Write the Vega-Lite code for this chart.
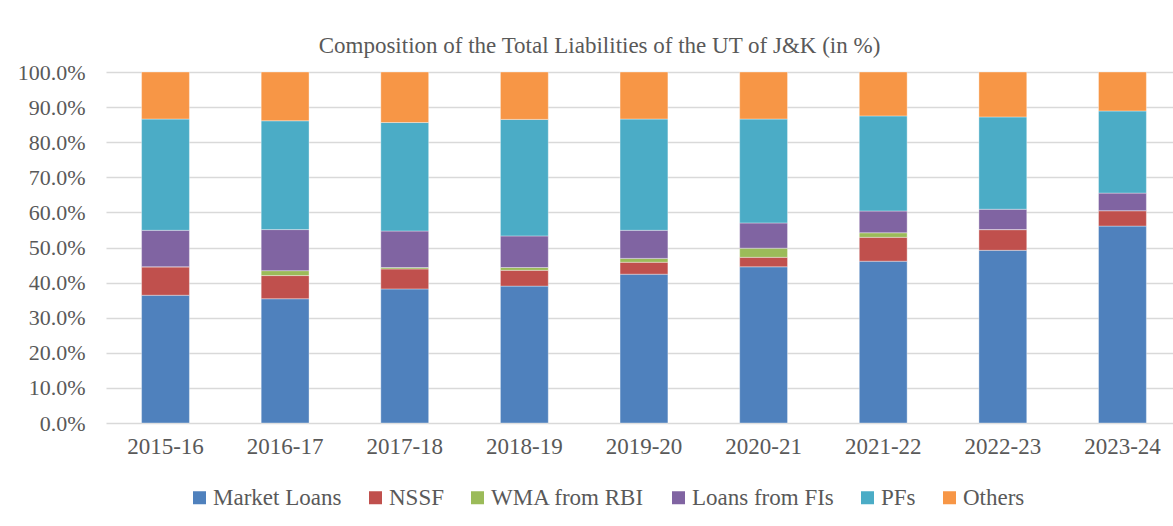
{
  "$schema": "https://vega.github.io/schema/vega-lite/v6.json",
  "autosize": "none",
  "width": 1067,
  "height": 351,
  "padding": {"left": 106, "top": 72, "right": 0, "bottom": 103},
  "background": "white",
  "title": {
    "text": "Composition of the Total Liabilities of the UT of J&K (in %)",
    "font": "Times New Roman, Liberation Serif, serif",
    "fontSize": 23,
    "fontWeight": "normal",
    "color": "#595959",
    "anchor": "middle",
    "frame": "group",
    "dx": -40,
    "offset": 3
  },
  "data": {
    "values": [
      {"year": "2015-16", "cat": "Market Loans", "ord": 1, "v": 36.4},
      {"year": "2015-16", "cat": "NSSF", "ord": 2, "v": 8.1},
      {"year": "2015-16", "cat": "WMA from RBI", "ord": 3, "v": 0},
      {"year": "2015-16", "cat": "Loans from FIs", "ord": 4, "v": 10.4},
      {"year": "2015-16", "cat": "PFs", "ord": 5, "v": 31.7},
      {"year": "2015-16", "cat": "Others", "ord": 6, "v": 13.4},
      {"year": "2016-17", "cat": "Market Loans", "ord": 1, "v": 35.4},
      {"year": "2016-17", "cat": "NSSF", "ord": 2, "v": 6.6},
      {"year": "2016-17", "cat": "WMA from RBI", "ord": 3, "v": 1.4},
      {"year": "2016-17", "cat": "Loans from FIs", "ord": 4, "v": 11.7},
      {"year": "2016-17", "cat": "PFs", "ord": 5, "v": 31.0},
      {"year": "2016-17", "cat": "Others", "ord": 6, "v": 13.9},
      {"year": "2017-18", "cat": "Market Loans", "ord": 1, "v": 38.2},
      {"year": "2017-18", "cat": "NSSF", "ord": 2, "v": 5.7},
      {"year": "2017-18", "cat": "WMA from RBI", "ord": 3, "v": 0.4},
      {"year": "2017-18", "cat": "Loans from FIs", "ord": 4, "v": 10.4},
      {"year": "2017-18", "cat": "PFs", "ord": 5, "v": 30.9},
      {"year": "2017-18", "cat": "Others", "ord": 6, "v": 14.4},
      {"year": "2018-19", "cat": "Market Loans", "ord": 1, "v": 39.0},
      {"year": "2018-19", "cat": "NSSF", "ord": 2, "v": 4.5},
      {"year": "2018-19", "cat": "WMA from RBI", "ord": 3, "v": 0.8},
      {"year": "2018-19", "cat": "Loans from FIs", "ord": 4, "v": 9.0},
      {"year": "2018-19", "cat": "PFs", "ord": 5, "v": 33.2},
      {"year": "2018-19", "cat": "Others", "ord": 6, "v": 13.5},
      {"year": "2019-20", "cat": "Market Loans", "ord": 1, "v": 42.4},
      {"year": "2019-20", "cat": "NSSF", "ord": 2, "v": 3.4},
      {"year": "2019-20", "cat": "WMA from RBI", "ord": 3, "v": 1.1},
      {"year": "2019-20", "cat": "Loans from FIs", "ord": 4, "v": 8.0},
      {"year": "2019-20", "cat": "PFs", "ord": 5, "v": 31.7},
      {"year": "2019-20", "cat": "Others", "ord": 6, "v": 13.4},
      {"year": "2020-21", "cat": "Market Loans", "ord": 1, "v": 44.5},
      {"year": "2020-21", "cat": "NSSF", "ord": 2, "v": 2.7},
      {"year": "2020-21", "cat": "WMA from RBI", "ord": 3, "v": 2.6},
      {"year": "2020-21", "cat": "Loans from FIs", "ord": 4, "v": 7.2},
      {"year": "2020-21", "cat": "PFs", "ord": 5, "v": 29.6},
      {"year": "2020-21", "cat": "Others", "ord": 6, "v": 13.4},
      {"year": "2021-22", "cat": "Market Loans", "ord": 1, "v": 46.1},
      {"year": "2021-22", "cat": "NSSF", "ord": 2, "v": 6.8},
      {"year": "2021-22", "cat": "WMA from RBI", "ord": 3, "v": 1.3},
      {"year": "2021-22", "cat": "Loans from FIs", "ord": 4, "v": 6.2},
      {"year": "2021-22", "cat": "PFs", "ord": 5, "v": 27.1},
      {"year": "2021-22", "cat": "Others", "ord": 6, "v": 12.5},
      {"year": "2022-23", "cat": "Market Loans", "ord": 1, "v": 49.2},
      {"year": "2022-23", "cat": "NSSF", "ord": 2, "v": 5.9},
      {"year": "2022-23", "cat": "WMA from RBI", "ord": 3, "v": 0},
      {"year": "2022-23", "cat": "Loans from FIs", "ord": 4, "v": 5.8},
      {"year": "2022-23", "cat": "PFs", "ord": 5, "v": 26.3},
      {"year": "2022-23", "cat": "Others", "ord": 6, "v": 12.8},
      {"year": "2023-24", "cat": "Market Loans", "ord": 1, "v": 56.1},
      {"year": "2023-24", "cat": "NSSF", "ord": 2, "v": 4.4},
      {"year": "2023-24", "cat": "WMA from RBI", "ord": 3, "v": 0},
      {"year": "2023-24", "cat": "Loans from FIs", "ord": 4, "v": 5.0},
      {"year": "2023-24", "cat": "PFs", "ord": 5, "v": 23.4},
      {"year": "2023-24", "cat": "Others", "ord": 6, "v": 11.1}
    ]
  },
  "mark": {"type": "bar", "stroke": "#ffffff", "strokeWidth": 0.6, "strokeOpacity": 0.6},
  "encoding": {
    "x": {
      "field": "year",
      "type": "nominal",
      "sort": null,
      "scale": {"paddingInner": 0.6, "paddingOuter": 0.26, "align": 0.572},
      "axis": {
        "title": null,
        "labelAngle": 0,
        "labelFont": "Times New Roman, Liberation Serif, serif",
        "labelFontSize": 23,
        "labelColor": "#595959",
        "labelPadding": 12,
        "ticks": false,
        "domain": false,
        "grid": false
      }
    },
    "y": {
      "field": "v",
      "type": "quantitative",
      "stack": "zero",
      "scale": {"domain": [0, 100], "nice": false},
      "axis": {
        "title": null,
        "values": [0, 10, 20, 30, 40, 50, 60, 70, 80, 90, 100],
        "labelExpr": "format(datum.value, '.1f') + '%'",
        "labelFont": "Times New Roman, Liberation Serif, serif",
        "labelFontSize": 22,
        "labelColor": "#595959",
        "labelPadding": 21,
        "ticks": false,
        "domain": false,
        "grid": true,
        "gridColor": "#d9d9d9",
        "gridWidth": 1.5
      }
    },
    "color": {
      "field": "cat",
      "type": "nominal",
      "scale": {
        "domain": ["Market Loans", "NSSF", "WMA from RBI", "Loans from FIs", "PFs", "Others"],
        "range": ["#4F81BD", "#C0504D", "#9BBB59", "#8064A2", "#4BACC6", "#F79646"]
      },
      "legend": {
        "title": null,
        "orient": "none",
        "legendX": 82,
        "legendY": 414,
        "direction": "horizontal",
        "columns": 6,
        "symbolType": "square",
        "symbolSize": 169,
        "symbolStrokeWidth": 0,
        "labelFont": "Times New Roman, Liberation Serif, serif",
        "labelFontSize": 23,
        "labelColor": "#595959",
        "labelOffset": 2,
        "columnPadding": 22,
        "labelLimit": 300
      }
    },
    "order": {"field": "ord", "type": "quantitative"}
  },
  "config": {"view": {"stroke": null}}
}
